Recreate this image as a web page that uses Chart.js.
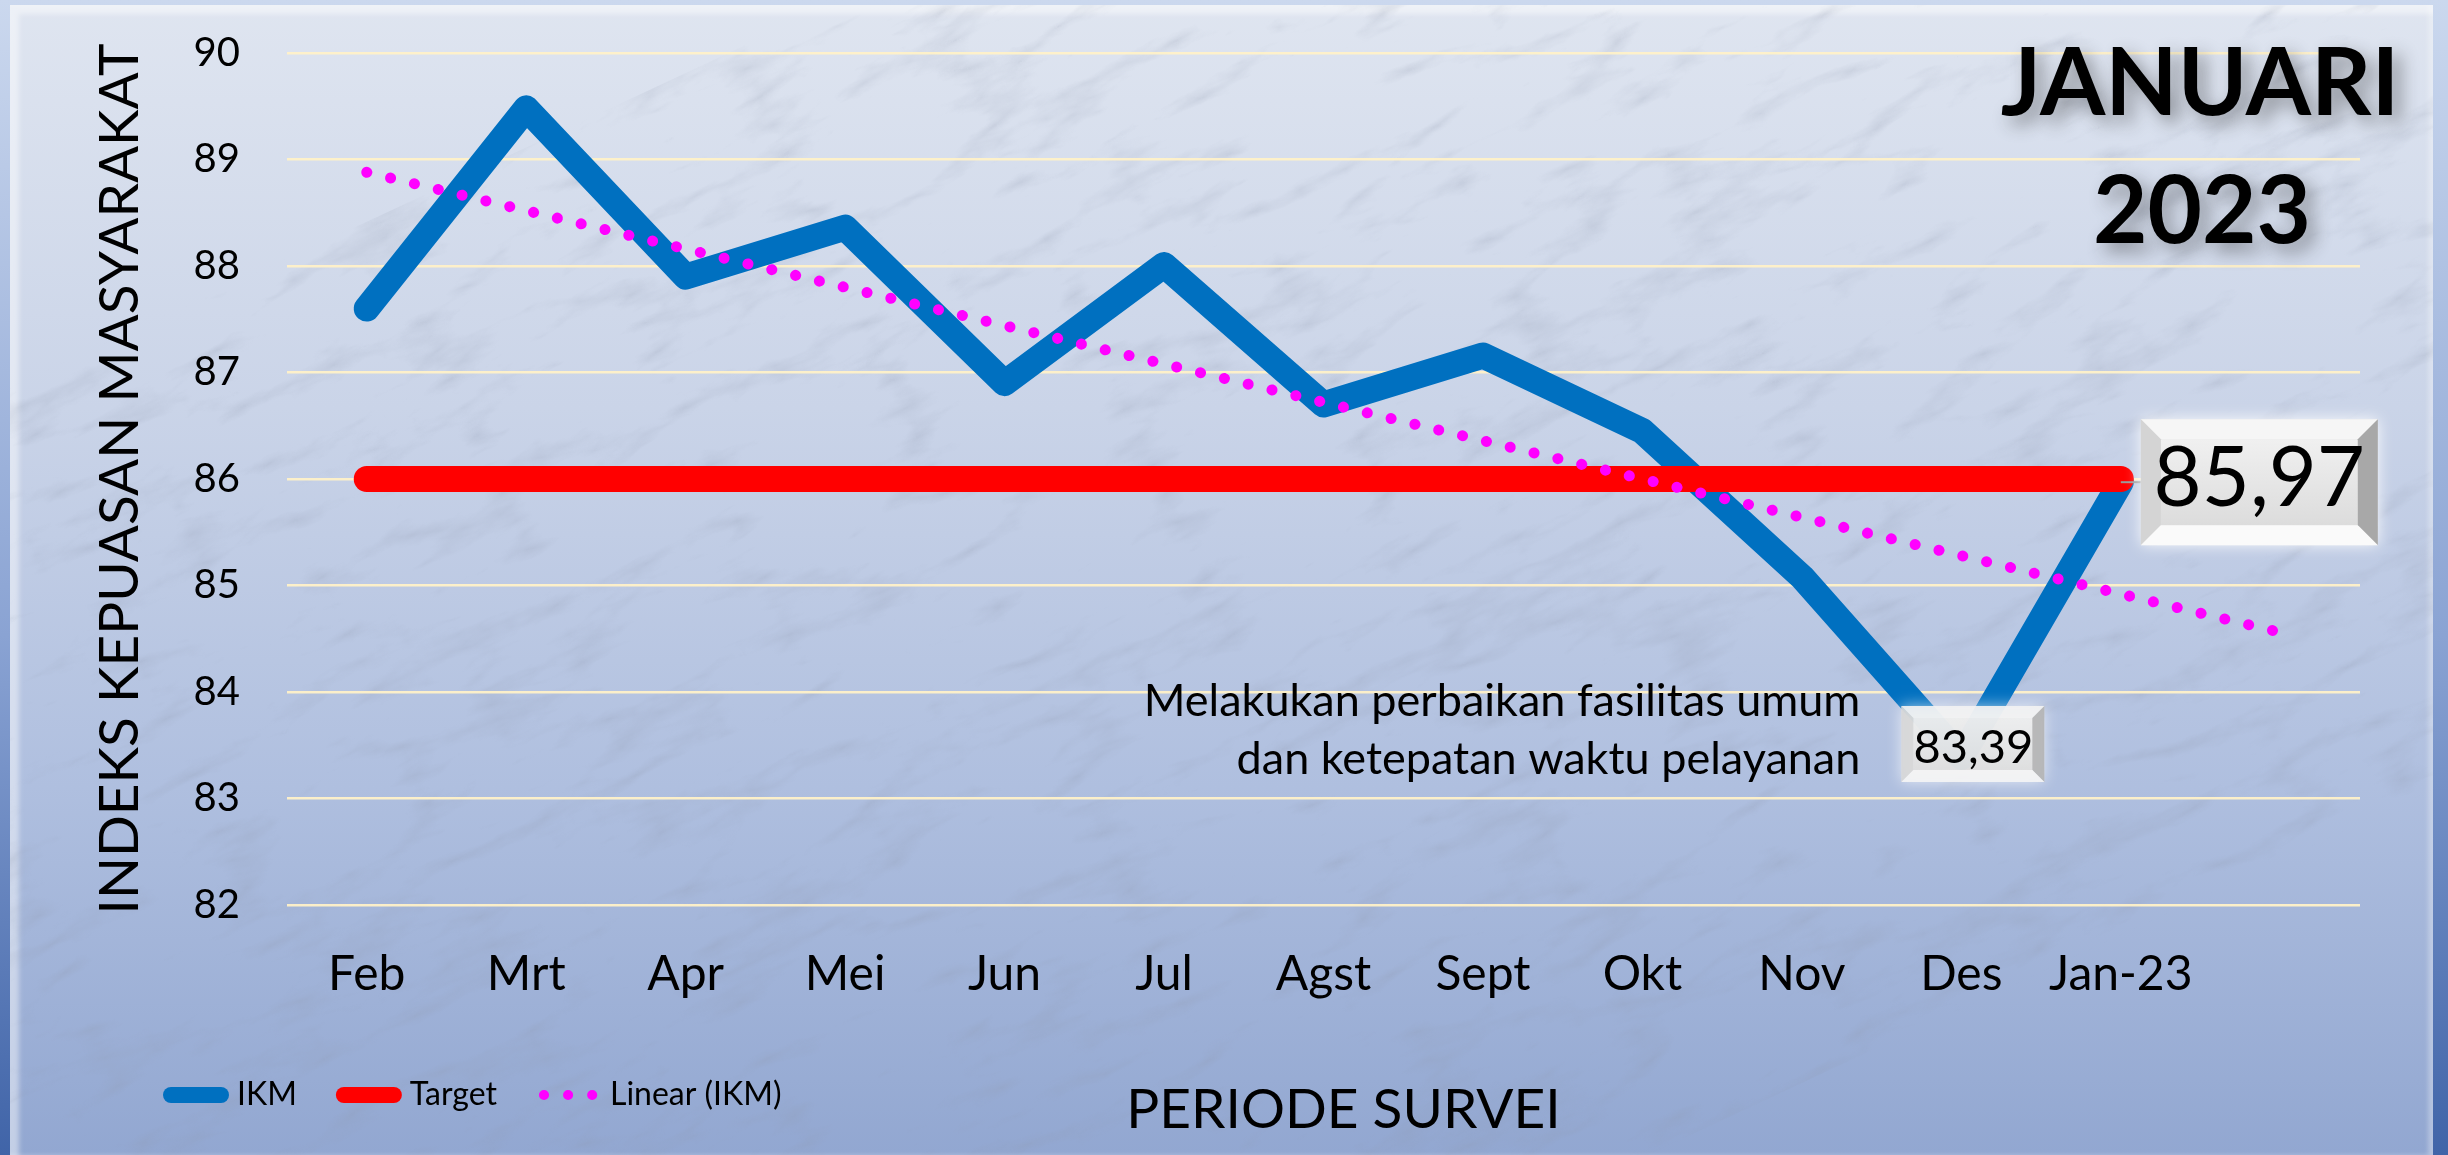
<!DOCTYPE html>
<html>
<head>
<meta charset="utf-8">
<title>IKM Januari 2023</title>
<script src="https://cdn.jsdelivr.net/npm/chart.js@4.4.1/dist/chart.umd.min.js"></script>
<style>
    html, body { margin: 0; padding: 0; }
    body {
        width: 2448px; height: 1155px; overflow: hidden; position: relative;
        background: linear-gradient(to bottom, #cbd8ee 0%, #8aa3d3 55%, #4064a8 100%);
    }
    #panel {
        position: absolute; left: 10px; top: 5px; width: 2423px; height: 1150px;
        background: linear-gradient(to bottom, #dfe5f0 0%, #cad4e8 35%, #afbfdf 68%, #92a7d1 100%);
        box-shadow: inset 9px 9px 5px rgba(255,255,255,0.45), inset -5px 0 4px rgba(255,255,255,0.3);
        overflow: hidden;
    }
    #marble { position: absolute; left: 0; top: 0; width: 100%; height: 100%; opacity: 0.2; }
    #wrap { position: absolute; left: 0; top: 0; width: 2448px; height: 1155px; }
</style>
</head>
<body>
<div id="panel"><div id="marble"></div></div>
<div id="wrap"><canvas id="ikmChart"></canvas></div>
<script>
// =========================
// DATA
// =========================
const months = ["Feb", "Mrt", "Apr", "Mei", "Jun", "Jul", "Agst", "Sept", "Okt", "Nov", "Des", "Jan-23"];
const ikm = [87.60, 89.48, 87.90, 88.36, 86.90, 88.01, 86.70, 87.16, 86.45, 85.08, 83.39, 85.97];
const target = [86, 86, 86, 86, 86, 86, 86, 86, 86, 86, 86, 86];
// linear trend of IKM, read at first point and at one forecast period after Jan-23
const trendIndex = [0, 12];
const trendValue = [88.88, 84.56];
const yTicks = [82, 83, 84, 85, 86, 87, 88, 89, 90];
const labelText = ["85,97", "83,39"];   // shown for Jan-23 and Des
const noteLines = ["Melakukan perbaikan fasilitas umum", "dan ketepatan waktu pelayanan"];

// one empty slot after Jan-23 for the trend forecast
const labels = [...months, ""];
const trendData = labels.map((_, i) => {
    const k = trendIndex.indexOf(i);
    return k >= 0 ? trendValue[k] : null;
});

const FONT = "Lato";
Chart.defaults.font.family = FONT;
Chart.defaults.color = "#000";

// =========================
// MARBLE BACKGROUND
// =========================
const marbleSvg = "<svg xmlns='http://www.w3.org/2000/svg' width='2448' height='1155'>" +
    "<filter id='f'><feTurbulence type='turbulence' baseFrequency='0.005 0.016' numOctaves='5' seed='7'/>" +
    "<feColorMatrix type='matrix' values='0 0 0 0 0.28 0 0 0 0 0.32 0 0 0 0 0.42 -2.2 -2.2 0 0 1.2'/></filter>" +
    "<rect width='2448' height='1155' filter='url(#f)' transform='rotate(-25 1224 577)'/></svg>";
document.getElementById("marble").style.backgroundImage =
    `url("data:image/svg+xml,${encodeURIComponent(marbleSvg)}")`;

// =========================
// HELPERS
// =========================
function poly(ctx, pts, fill) {
    ctx.beginPath();
    ctx.moveTo(pts[0][0], pts[0][1]);
    pts.slice(1).forEach(p => ctx.lineTo(p[0], p[1]));
    ctx.closePath();
    ctx.fillStyle = fill;
    ctx.fill();
}

function bevelBox(ctx, x, y, w, h, b, alpha) {
    ctx.save();
    ctx.globalAlpha = alpha;
    ctx.shadowColor = "rgba(255,255,255,0.9)";
    ctx.shadowBlur = 14;
    ctx.fillStyle = "#e2e2e2";
    ctx.fillRect(x, y, w, h);
    ctx.shadowBlur = 0;
    const face = ctx.createLinearGradient(0, y + b, 0, y + h - b);
    face.addColorStop(0, "#f0f0f0");
    face.addColorStop(1, "#dcdcdc");
    ctx.fillStyle = face;
    ctx.fillRect(x + b, y + b, w - 2 * b, h - 2 * b);
    poly(ctx, [[x, y], [x + w, y], [x + w - b, y + b], [x + b, y + b]], "#f6f6f6");
    poly(ctx, [[x, y], [x + b, y + b], [x + b, y + h - b], [x, y + h]], "#d4d4d4");
    poly(ctx, [[x + w, y], [x + w, y + h], [x + w - b, y + h - b], [x + w - b, y + b]], "#a8a8a8");
    poly(ctx, [[x, y + h], [x + w, y + h], [x + w - b, y + h - b], [x + b, y + h - b]], "#fafafa");
    ctx.restore();
}

// =========================
// EXTRA DRAWING (labels, title, axis title)
// =========================
const extrasPlugin = {
    id: "extras",
    afterLayout(chart) {
        // legend sits at bottom-left, beside the x-axis title
        chart.legend.left = 124;
    },
    afterDatasetsDraw(chart) {
        const ctx = chart.ctx;
        const pts = chart.getDatasetMeta(0).data;
        const jan = pts[11], des = pts[10];

        // Jan-23 label
        ctx.save();
        ctx.strokeStyle = "#9a9a9a";
        ctx.lineWidth = 2;
        ctx.beginPath();
        ctx.moveTo(jan.x, jan.y);
        ctx.lineTo(jan.x + 20, jan.y);
        ctx.stroke();
        ctx.restore();
        bevelBox(ctx, jan.x + 20, jan.y - 63, 237, 126, 20, 1);
        ctx.save();
        ctx.font = `83px ${FONT}`;
        ctx.textAlign = "center";
        ctx.textBaseline = "alphabetic";
        ctx.fillStyle = "#000";
        ctx.fillText(labelText[0], jan.x + 20 + 237 / 2, jan.y + 24);
        ctx.restore();

        // Des label
        bevelBox(ctx, des.x - 60, des.y - 51, 143, 76, 12, 0.72);
        ctx.save();
        ctx.font = `47px ${FONT}`;
        ctx.textAlign = "center";
        ctx.textBaseline = "middle";
        ctx.fillStyle = "#000";
        ctx.fillText(labelText[1], des.x + 12, des.y - 9);

        // note next to Des label
        ctx.font = `45px ${FONT}`;
        ctx.textAlign = "right";
        ctx.fillText(noteLines[0], des.x - 101, des.y - 55);
        ctx.fillText(noteLines[1], des.x - 101, des.y + 3);
        ctx.restore();
    },
    afterDraw(chart) {
        const ctx = chart.ctx;
        const area = chart.chartArea;
        ctx.save();

        // x-axis title, on the legend row
        ctx.font = `55px ${FONT}`;
        ctx.textAlign = "center";
        ctx.textBaseline = "middle";
        ctx.fillStyle = "#000";
        ctx.fillText("PERIODE SURVEI", (area.left + area.right) / 2 + 20, 1110);

        // big period title
        ctx.font = `bold 94px ${FONT}`;
        ctx.textBaseline = "alphabetic";
        ctx.shadowColor = "rgba(40,40,40,0.45)";
        ctx.shadowBlur = 18;
        ctx.shadowOffsetX = 8;
        ctx.shadowOffsetY = 8;
        ctx.fillText("JANUARI", 2200, 115);
        ctx.fillText("2023", 2202, 243);
        ctx.restore();
    }
};

// =========================
// CHART
// =========================
const ctx = document.getElementById("ikmChart").getContext("2d");

new Chart(ctx, {
    type: "line",
    data: {
        labels: labels,
        datasets: [
            {
                label: "IKM",
                data: ikm,
                borderColor: "#0070C0",
                backgroundColor: "#0070C0",
                borderWidth: 26,
                borderCapStyle: "round",
                borderJoinStyle: "round",
                pointRadius: 0,
                order: 3
            },
            {
                label: "Target",
                data: target,
                borderColor: "#FF0000",
                backgroundColor: "#FF0000",
                borderWidth: 26,
                borderCapStyle: "round",
                pointRadius: 0,
                order: 2
            },
            {
                label: "Linear (IKM)",
                data: trendData,
                spanGaps: true,
                borderColor: "#FF00FF",
                backgroundColor: "#FF00FF",
                borderWidth: 11,
                borderCapStyle: "round",
                borderDash: [0.1, 24.4],
                pointRadius: 0,
                order: 1
            }
        ]
    },
    options: {
        responsive: true,
        maintainAspectRatio: false,
        animation: false,
        layout: { padding: { top: 53, right: 88, bottom: 34, left: 0 } },
        plugins: {
            tooltip: { enabled: false },
            legend: {
                position: "bottom",
                align: "start",
                labels: {
                    usePointStyle: true,
                    pointStyleWidth: 50,
                    padding: 47,
                    color: "#000",
                    font: { family: FONT, size: 32 },
                    generateLabels: (chart) => chart.data.datasets.map((ds, i) => ({
                        text: ds.label,
                        datasetIndex: i,
                        pointStyle: "line",
                        strokeStyle: ds.borderColor,
                        fillStyle: ds.borderColor,
                        lineWidth: i === 2 ? 10 : 16,
                        lineCap: "round",
                        lineDash: i === 2 ? [0.1, 24] : [],
                        hidden: false
                    }))
                }
            }
        },
        scales: {
            x: {
                offset: true,
                grid: { display: false },
                border: { display: false },
                ticks: {
                    autoSkip: false,
                    maxRotation: 0,
                    padding: 33,
                    color: "#000",
                    font: { family: FONT, size: 48 }
                },
                afterFit: (scale) => { scale.height = 127; }
            },
            y: {
                min: 82,
                max: 90,
                border: { display: false },
                grid: { color: "rgba(255,241,200,0.95)", lineWidth: 2.5, drawTicks: false },
                afterBuildTicks: (scale) => { scale.ticks = yTicks.map(v => ({ value: v })); },
                afterFit: (scale) => {
                    scale.width = 287;
                    scale.paddingTop = 0;
                    scale.paddingBottom = 0;
                },
                ticks: {
                    padding: 47,
                    color: "#000",
                    font: { family: FONT, size: 40 }
                },
                title: {
                    display: true,
                    text: "INDEKS KEPUASAN MASYARAKAT",
                    color: "#000",
                    padding: { top: 87, bottom: 0 },
                    font: { family: FONT, size: 55 }
                }
            }
        }
    },
    plugins: [extrasPlugin]
});
</script>
</body>
</html>
